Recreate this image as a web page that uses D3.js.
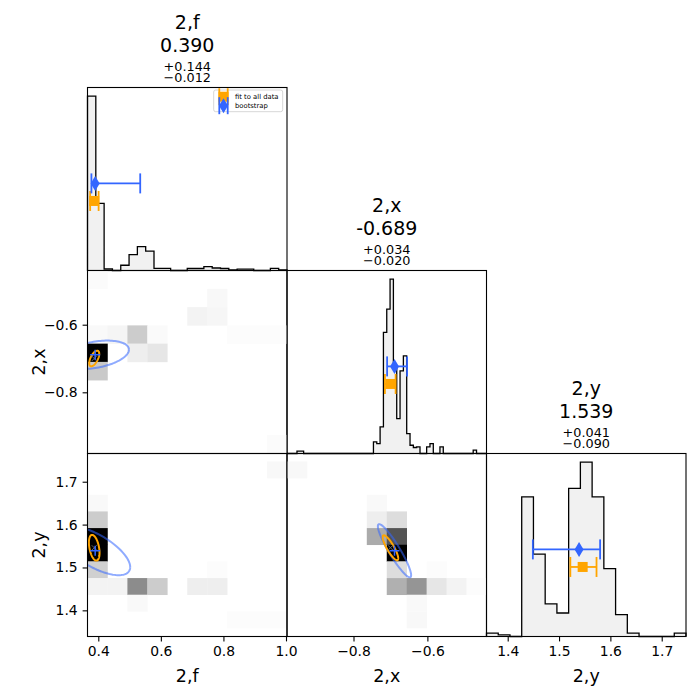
<!DOCTYPE html>
<html>
<head>
<meta charset="utf-8">
<script src="https://cdn.jsdelivr.net/npm/d3@7"></script>
<style>
  body { margin: 0; background: #fff; }
  svg { font-family: "DejaVu Sans", sans-serif; }
</style>
</head>
<body>
<svg id="chart" width="700" height="700"></svg>
<script>
// Parameter names and the ranges used for the histograms
var params = ["2,f", "2,x", "2,y"];
var ranges = [[0.3655, 1.0032], [-0.980, -0.440], [1.3587, 1.7473]];
// The y axis of a row is not always the same as the column range (last row is wider)
var rowRanges = [null, [-0.981, -0.4397], [1.339, 1.7658]];
var tickVals = [[0.4, 0.6, 0.8, 1.0], [-0.8, -0.6], [1.4, 1.5, 1.6, 1.7]];

// Bootstrap median and errors (blue, shown in the titles)
var bootMed = [0.390, -0.689, 1.539];
var bootPlus = [0.144, 0.034, 0.041];
var bootMinus = [0.012, 0.020, 0.090];
// Fit to all data (orange)
var fitVal = [0.387, -0.700, 1.546];
var fitLo = [0.374, -0.715, 1.522];
var fitHi = [0.401, -0.686, 1.573];

// 1D histogram counts, equal bins over ranges[c]
var histF = [173.3, 66.7, 1.5, 0, 5.2, 15.7, 23.7, 19.3, 2.2, 2.2, 0, 0, 2, 2, 3.8, 2.5, 2, 0.7, 1.3, 1.3, 0, 0, 2.2, 0.7];
var histX = [0, 0, 0, 2.3, 2.3,
  0, 0, 0, 0, 0, 0, 0, 0, 0, 0, 0, 0, 0, 0, 0, 0, 0, 0, 0, 0, 0,
  11.7, 10, 26.7, 121.7, 145, 175, 86.7, 35, 83, 98, 20, 8.3, 6, 6.7, 0, 0, 6.7, 10, 0, 0, 6.7,
  0, 0, 0, 0, 0, 0, 0, 0, 0,
  3.3, 0, 0, 0];
var histY = [3.3, 1.7, 0, 138.3, 81.7, 32.3, 23.3, 146.7, 172.7, 138.3, 67.3, 21.7, 3.3, 0, 0, 0, 3.3];

// 2D histograms, 10x10, first row is the TOP row. Values are % of the max (black)
var gridFX = [
  [1.5, 0, 0, 0, 0, 0, 0, 0, 0, 0],
  [0, 0, 0, 0, 0, 0, 2.7, 0, 0, 0],
  [0, 0, 0, 0, 0, 4.7, 3.5, 0, 0, 0],
  [2.5, 4, 20, 2, 0, 0, 0, 1, 1, 1],
  [100, 0, 6.7, 10, 0, 0, 0, 0, 0, 0],
  [21, 0, 0, 0, 0, 0, 0, 0, 0, 0],
  [0, 0, 0, 0, 0, 0, 0, 0, 0, 0],
  [0, 0, 0, 0, 0, 0, 0, 0, 0, 0],
  [0, 0, 0, 0, 0, 0, 0, 0, 0, 0],
  [0, 0, 0, 0, 0, 0, 0, 0, 0, 1.5]
];
var gridFY = [
  [0, 0, 0, 0, 0, 0, 0, 0, 0, 2.7],
  [0, 0, 0, 0, 0, 0, 0, 0, 0, 0],
  [2.4, 0, 0, 0, 0, 0, 0, 0, 0, 0],
  [20, 0, 0, 0, 0, 0, 0, 0, 0, 0],
  [100, 0, 0, 0, 0, 0, 0, 0, 0, 0],
  [100, 0, 0, 0, 0, 0, 0, 0, 0, 0],
  [18.5, 0, 0, 0, 0, 0, 1.2, 0, 0, 0],
  [4.7, 4.7, 45, 20, 0, 6.7, 6.7, 0, 0, 0],
  [0, 0, 2.4, 0, 0, 0, 0, 0, 0, 0],
  [0, 0, 0, 0, 0, 0, 0, 1.2, 1.2, 1.2]
];
var gridXY = [
  [2.7, 0, 0, 0, 0, 0, 0, 0, 0, 0],
  [0, 0, 0, 0, 0, 0, 0, 0, 0, 0],
  [0, 0, 0, 0, 2.4, 0, 0, 0, 0, 0],
  [0, 0, 0, 0, 6.7, 13.3, 0, 0, 0, 0],
  [0, 0, 0, 0, 33, 67, 0, 0, 0, 0],
  [0, 0, 0, 0, 0, 100, 0, 0, 0, 0],
  [0, 0, 0, 0, 0, 13.3, 0, 1.2, 0, 0],
  [0, 0, 0, 0, 0, 31, 41.5, 10, 4.7, 1.2],
  [0, 0, 0, 0, 0, 0, 2.4, 0, 0, 0],
  [0, 0, 0, 0, 0, 0, 2.7, 0, 0, 0]
];

// Which parameters go on x and y for each 2D panel
var pairs = [[0, 1], [0, 2], [1, 2]];
// Ellipse sizes (semi extents in data units + correlation)
var bootSx = [0.108, 0.112, 0.045], bootSy = [0.042, 0.057, 0.062], bootRho = [0.36, -0.67, -0.92];
var fitSx = [0.016, 0.017, 0.021], fitSy = [0.023, 0.030, 0.029], fitRho = [0.6, -0.4, -0.85];

var legendLabels = ["fit to all data", "bootstrap"];

// ---- layout ----
var L = 87.5, T = 87.5, pw = 199.5, ph = 183;
var orange = "#ffa500", blue = "#3366ff";
var svg = d3.select("#chart");
var fmt1 = d3.format(".1f"), fmt3 = d3.format(".3f");

var xs = ranges.map(function (r) { return d3.scaleLinear().domain(r).range([0, pw]); });
var ys = rowRanges.map(function (r) { return r ? d3.scaleLinear().domain(r).range([ph, 0]) : null; });
var shade = d3.scaleLinear().domain([0, 100]).range(["#ffffff", "#000000"]).clamp(true);

function panel(r, c) {
  return svg.append("g").attr("transform", "translate(" + (L + c * pw) + "," + (T + r * ph) + ")");
}

function frame(g) {
  g.append("rect").attr("width", pw).attr("height", ph)
    .attr("fill", "none").attr("stroke", "#000").attr("stroke-width", 1.1);
}

// horizontal error bar with caps, then the marker on top
function errbar(g, x0, x1, xm, y, color, kind) {
  g.append("line").attr("x1", x0).attr("x2", x1).attr("y1", y).attr("y2", y)
    .attr("stroke", color).attr("stroke-width", 1.8);
  [x0, x1].forEach(function (xx) {
    g.append("line").attr("x1", xx).attr("x2", xx).attr("y1", y - 10).attr("y2", y + 10)
      .attr("stroke", color).attr("stroke-width", 1.8);
  });
  if (kind == "sq") {
    g.append("rect").attr("x", xm - 5).attr("y", y - 5).attr("width", 10).attr("height", 10).attr("fill", color);
  } else {
    g.append("path").attr("d", "M" + xm + "," + (y - 7.5) + "l4.5,7.5l-4.5,7.5l-4.5,-7.5z").attr("fill", color);
  }
}

// ---- diagonal: 1D histograms ----
var hists = [histF, histX, histY];
hists.forEach(function (counts, c) {
  var g = panel(c, c);
  var x = xs[c], n = counts.length;
  var edge = d3.scaleLinear().domain([0, n]).range(ranges[c]);
  var y = d3.scaleLinear().domain([0, d3.max(counts) * 1.05]).range([ph, 0]);
  var pts = [[edge(0), 0]];
  counts.forEach(function (v, k) { pts.push([edge(k), v]); });
  pts.push([edge(n), counts[n - 1]], [edge(n), 0]);
  var line = d3.line().x(function (d) { return x(d[0]); }).y(function (d) { return y(d[1]); })
    .curve(d3.curveStepAfter);
  g.append("path").attr("d", line(pts)).attr("fill", "#f1f1f1")
    .attr("stroke", "#000").attr("stroke-width", 1.3);

  // markers sit at fixed heights in axes fraction
  errbar(g, x(fitLo[c]), x(fitHi[c]), x(fitVal[c]), ph * (1 - 0.38), orange, "sq");
  errbar(g, x(bootMed[c] - bootMinus[c]), x(bootMed[c] + bootPlus[c]), x(bootMed[c]), ph * (1 - 0.476), blue, "d");
  frame(g);

  // title: name, value (plain hyphen), +err / -err (true minus)
  var t = g.append("g").attr("text-anchor", "middle").attr("transform", "translate(" + pw / 2 + ",0)");
  t.append("text").attr("y", -58.5).attr("font-size", 19).text(params[c]);
  t.append("text").attr("y", -36).attr("font-size", 19).text(fmt3(bootMed[c]).replace("\u2212", "-"));
  t.append("text").attr("y", -17).attr("font-size", 12.8).text("+" + fmt3(bootPlus[c]));
  t.append("text").attr("y", -5.5).attr("font-size", 12.8).text("\u2212" + fmt3(bootMinus[c]));
});

// ---- lower triangle: 2D histograms ----
var grids = [gridFX, gridFY, gridXY];
pairs.forEach(function (p, q) {
  var c = p[0], r = p[1];
  var g = panel(r, c);
  var x = xs[c], y = ys[r], grid = grids[q], nb = grid.length;
  var bx = d3.scaleLinear().domain([0, nb]).range(ranges[c]);
  var by = d3.scaleLinear().domain([0, nb]).range(ranges[r]);

  g.append("clipPath").attr("id", "clip" + q).append("rect").attr("width", pw).attr("height", ph);
  var inner = g.append("g").attr("clip-path", "url(#clip" + q + ")");

  var cells = [];
  grid.forEach(function (row, t) {
    row.forEach(function (v, i) { if (v > 0) cells.push({ i: i, j: nb - 1 - t, v: v }); });
  });
  inner.selectAll("rect.cell").data(cells).enter().append("rect")
    .attr("class", "cell")
    .attr("x", function (d) { return x(bx(d.i)); })
    .attr("width", function (d) { return x(bx(d.i + 1)) - x(bx(d.i)) + 0.3; })
    .attr("y", function (d) { return y(by(d.j + 1)); })
    .attr("height", function (d) { return y(by(d.j)) - y(by(d.j + 1)) + 0.3; })
    .attr("fill", function (d) { return shade(d.v); });

  function ellipse(mx, my, sx, sy, rho) {
    return d3.range(0, 121).map(function (k) {
      var a = 2 * Math.PI * k / 120;
      return [mx + sx * Math.cos(a), my + sy * (rho * Math.cos(a) + Math.sqrt(1 - rho * rho) * Math.sin(a))];
    });
  }
  var eline = d3.line().x(function (d) { return x(d[0]); }).y(function (d) { return y(d[1]); });

  inner.append("path").attr("d", eline(ellipse(bootMed[c], bootMed[r], bootSx[q], bootSy[q], bootRho[q])))
    .attr("fill", "none").attr("stroke", blue).attr("stroke-opacity", 0.55).attr("stroke-width", 2);
  inner.append("path").attr("d", eline(ellipse(fitVal[c], fitVal[r], fitSx[q], fitSy[q], fitRho[q])))
    .attr("fill", "none").attr("stroke", orange).attr("stroke-width", 2);

  // small gray x for the fit, blue + for the bootstrap centre
  var fx = x(fitVal[c]), fy = y(fitVal[r]);
  inner.append("path").attr("d", "M" + (fx - 2.5) + "," + (fy - 2.5) + "l5,5m0,-5l-5,5")
    .attr("stroke", "#666").attr("stroke-width", 1);
  var bxp = x(bootMed[c]), byp = y(bootMed[r]);
  inner.append("path").attr("d", "M" + (bxp - 5) + "," + byp + "h10M" + bxp + "," + (byp - 5) + "v10")
    .attr("stroke", blue).attr("stroke-width", 1.5);

  frame(g);
});

// ---- axes on the outside panels ----
function styleAxis(a) {
  a.select(".domain").remove();
  a.attr("font-family", "DejaVu Sans").attr("font-size", 13.9);
  a.selectAll(".tick line").attr("stroke-width", 1.1);
  a.selectAll(".tick text").attr("fill", "#000");
}
for (var c = 0; c < 3; c++) {
  var a = panel(2, c).append("g").attr("transform", "translate(0," + ph + ")")
    .call(d3.axisBottom(xs[c]).tickValues(tickVals[c]).tickFormat(fmt1).tickSize(4.9).tickPadding(4.9).tickSizeOuter(0));
  styleAxis(a);
  svg.append("text").attr("x", L + c * pw + pw / 2).attr("y", 681.7)
    .attr("text-anchor", "middle").attr("font-size", 17.5).text(params[c]);
}
for (var r = 1; r < 3; r++) {
  var a2 = panel(r, 0).append("g")
    .call(d3.axisLeft(ys[r]).tickValues(tickVals[r]).tickFormat(fmt1).tickSize(4.9).tickPadding(4.9).tickSizeOuter(0));
  styleAxis(a2);
  svg.append("text").attr("transform", "translate(45," + (T + r * ph + ph / 2) + ")rotate(-90)")
    .attr("text-anchor", "middle").attr("font-size", 17.5).text(params[r]);
}

// ---- legend in the first panel ----
var lg = svg.append("g");
lg.append("rect").attr("x", 213.7).attr("y", 90).attr("width", 69).attr("height", 21.7).attr("rx", 2)
  .attr("fill", "#fff").attr("fill-opacity", 0.8).attr("stroke", "#cccccc").attr("stroke-width", 0.8);
[orange, blue].forEach(function (col, k) {
  var yy = 96.7 + k * 9;
  lg.append("line").attr("x1", 219.3).attr("x2", 227.7).attr("y1", yy).attr("y2", yy)
    .attr("stroke", col).attr("stroke-width", 1.8);
  [219.3, 227.7].forEach(function (xx) {
    lg.append("line").attr("x1", xx).attr("x2", xx).attr("y1", yy - 8.5).attr("y2", yy + 8.5)
      .attr("stroke", col).attr("stroke-width", 1.8);
  });
  if (k == 0) lg.append("rect").attr("x", 218.5).attr("y", yy - 5).attr("width", 10).attr("height", 10).attr("fill", col);
  else lg.append("path").attr("d", "M223.5," + (yy - 7.5) + "l4.5,7.5l-4.5,7.5l-4.5,-7.5z").attr("fill", col);
  lg.append("text").attr("x", 235).attr("y", yy + 2.3).attr("font-size", 6.8).text(legendLabels[k]);
});
</script>
</body>
</html>
